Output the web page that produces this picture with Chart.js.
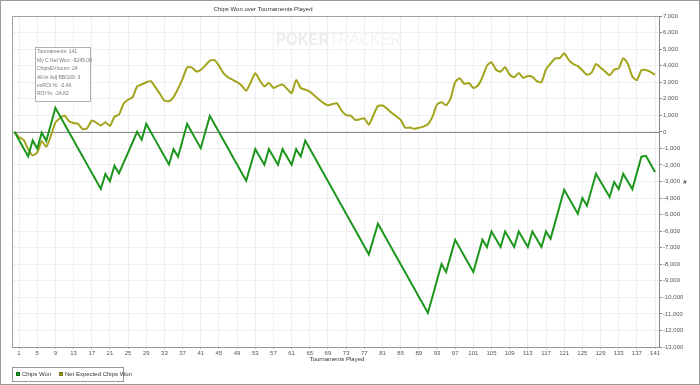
<!DOCTYPE html>
<html>
<head>
<meta charset="utf-8">
<script src="https://cdn.jsdelivr.net/npm/chart.js@4.4.1/dist/chart.umd.min.js"></script>
<style>
  html, body { margin: 0; padding: 0; background: #fff; }
</style>
</head>
<body>
<canvas id="myChart" width="700" height="385"></canvas>
<script>
const chartTitle = 'Chips Won over Tournaments Played';
const xTitle = 'Tournaments Played';
const yTitle = '#';
const seriesNames = ['Chips Won', 'Net Expected Chips Won'];
const xTicks = [1, 5, 9, 13, 17, 21, 25, 29, 33, 37, 41, 45, 49, 53, 57, 61, 65, 69, 73, 77, 81, 85, 89, 93, 97, 101, 105, 109, 113, 117, 121, 125, 129, 133, 137, 141];
const infoLines = [
    'Tournaments: 141',
    'My C Net Won: -$245.00',
    'ChipsEV/tourn: 24',
    'All-In Adj BB/100: 3',
    'evROI %: -2.46',
    'ROI %: -24.82'
];

// tournament number 0..141 (0 = starting point)
const tournaments = Array.from({length: 142}, (_, i) => i);

const chipsWon = [
    0, -495, -990, -1480, -520, -1010, -50, -540, 450, 1450,
    960, 470, -20, -510, -1000, -1490, -1980, -2470, -2960, -3450,
    -2540, -2990, -2050, -2500, -1880, -1250, -630, 0, -480, 480,
    -10, -500, -990, -1480, -1970, -1045, -1500, -510, 480, -10,
    -500, -990, -10, 965, 475, -15, -505, -995, -1485, -1975,
    -2465, -2955, -2000, -1045, -1520, -1990, -1045, -1520, -1990, -1045,
    -1520, -1990, -1045, -1490, -525, -1016, -1507, -1998, -2489, -2980,
    -3471, -3962, -4453, -4944, -5435, -5926, -6417, -6908, -7400, -6480,
    -5550, -6040, -6530, -7020, -7510, -8000, -8490, -8980, -9470, -9960,
    -10450, -10940, -9960, -8970, -7985, -8470, -7495, -6520, -7010, -7500,
    -7990, -8470, -7495, -6520, -6960, -6016, -6490, -6960, -6016, -6490,
    -6960, -6016, -6490, -6960, -6016, -6490, -6960, -6016, -6460, -5470,
    -4480, -3500, -3980, -4460, -4950, -4000, -4470, -3500, -2535, -3000,
    -3470, -3940, -3035, -3460, -2535, -3000, -3460, -2480, -1500, -1450,
    -1940, -2430
];

const netExpected = [
    0, -330, -480, -1050, -1420, -1250, -560, -900, -250, 560,
    825, 985, 640, 530, 480, 170, 220, 680, 560, 380,
    585, 360, 900, 1050, 1700, 1940, 2100, 2750, 2860, 3000,
    3060, 2700, 2300, 1900, 1850, 2100, 2600, 3200, 3900, 3900,
    3650, 3750, 4000, 4300, 4330, 4000, 3550, 3300, 3150, 3000,
    2800, 2480, 3000, 3540, 3100, 2740, 2960, 2650, 2780, 2860,
    2600, 2340, 3130, 2650, 2550, 2430, 2200, 1950, 1750, 1600,
    1680, 1720, 1280, 1010, 980, 720, 760, 820, 430, 1000,
    1560, 1590, 1400, 1150, 940, 720, 250, 260, 180, 240,
    320, 460, 900, 1650, 1790, 1600, 2030, 3000, 3240, 2900,
    2950, 2650, 2800, 3300, 4000, 4200, 3750, 3640, 3900, 3450,
    3300, 3560, 3260, 3370, 3320, 3060, 3000, 3780, 4130, 4440,
    4450, 4750, 4350, 4100, 3970, 3720, 3450, 3560, 4100, 3880,
    3650, 3420, 3760, 3840, 4450, 4120, 3350, 3120, 3720, 3740,
    3620, 3450
];

const greenColor = '#1c961c';
const oliveColor = '#a3a31c';
const labelFont = '"Liberation Sans", Arial, sans-serif';

const extras = {
    id: 'extras',
    beforeDatasetsDraw(chart) {
        const ctx = chart.ctx;
        const area = chart.chartArea;
        // watermark
        ctx.save();
        ctx.textBaseline = 'alphabetic';
        ctx.font = 'bold 17px "Liberation Sans Narrow", "Liberation Sans", sans-serif';
        const w1 = ctx.measureText('POKER').width;
        ctx.font = '17px "Liberation Sans Narrow", "Liberation Sans", sans-serif';
        const w2 = ctx.measureText('TRACKER').width;
        const sx = 125 / (w1 + w2);
        ctx.translate(276, 45);
        ctx.scale(sx, 1);
        ctx.font = 'bold 17px "Liberation Sans Narrow", "Liberation Sans", sans-serif';
        ctx.fillStyle = '#ececec';
        ctx.fillText('POKER', 0, 0);
        ctx.font = '17px "Liberation Sans Narrow", "Liberation Sans", sans-serif';
        ctx.fillStyle = '#f3f3f3';
        ctx.fillText('TRACKER', w1, 0);
        ctx.restore();

        // zero line
        const y0 = chart.scales.y.getPixelForValue(0);
        ctx.save();
        ctx.strokeStyle = '#8a8a8a';
        ctx.lineWidth = 1;
        ctx.beginPath();
        ctx.moveTo(area.left, Math.round(y0) + 0.5);
        ctx.lineTo(area.right, Math.round(y0) + 0.5);
        ctx.stroke();
        // left and top border of plot
        ctx.strokeStyle = '#a0a0a0';
        ctx.beginPath();
        ctx.moveTo(area.left + 0.5, area.bottom);
        ctx.lineTo(area.left + 0.5, area.top + 0.5);
        ctx.lineTo(area.right, area.top + 0.5);
        ctx.stroke();
        ctx.restore();
    },
    afterDraw(chart) {
        const ctx = chart.ctx;
        ctx.save();
        // outer frame
        ctx.strokeStyle = '#9a9a9a';
        ctx.lineWidth = 1;
        ctx.strokeRect(0.5, 0.5, 699, 384);

        // title
        ctx.fillStyle = '#333';
        ctx.font = '6px ' + labelFont;
        ctx.textAlign = 'center';
        ctx.textBaseline = 'middle';
        ctx.fillText(chartTitle, 263, 9);
        // axis titles
        ctx.fillText(xTitle, 337, 359);
        ctx.font = 'bold 6px ' + labelFont;
        ctx.fillText(yTitle, 685, 182);

        // info box
        ctx.fillStyle = '#fff';
        ctx.fillRect(35, 47, 55, 54);
        ctx.strokeStyle = '#b0b0b0';
        ctx.strokeRect(35.5, 47.5, 55, 54);
        ctx.fillStyle = '#777';
        ctx.font = '5px ' + labelFont;
        ctx.textAlign = 'left';
        infoLines.forEach((line, i) => {
            ctx.fillText(line, 37, 52 + i * 8.4);
        });

        // legend
        ctx.strokeStyle = '#999';
        ctx.strokeRect(12.5, 367.5, 111, 14);
        const items = [[16, greenColor, '#0e6e0e'], [59, oliveColor, '#707010']];
        items.forEach(([x, fill, edge], i) => {
            ctx.fillStyle = fill;
            ctx.fillRect(x, 372, 4, 4);
            ctx.strokeStyle = edge;
            ctx.strokeRect(x + 0.5, 372.5, 3, 3);
            ctx.fillStyle = '#333';
            ctx.font = '6px ' + labelFont;
            ctx.fillText(seriesNames[i], x + 6, 374.5);
        });
        ctx.restore();
    }
};

const ctx = document.getElementById('myChart').getContext('2d');
const myChart = new Chart(ctx, {
    type: 'line',
    data: {
        labels: tournaments,
        datasets: [{
            label: seriesNames[0],
            data: chipsWon,
            borderColor: greenColor,
            borderWidth: 2,
            pointRadius: 0,
            tension: 0,
            fill: false
        }, {
            label: seriesNames[1],
            data: netExpected,
            borderColor: oliveColor,
            borderWidth: 2,
            pointRadius: 0,
            tension: 0.2,
            fill: false
        }]
    },
    options: {
        responsive: false,
        animation: false,
        layout: { padding: { left: 12, top: 16, right: 0, bottom: 0 } },
        plugins: {
            legend: { display: false },
            title: { display: false },
            tooltip: { enabled: false }
        },
        scales: {
            x: {
                type: 'linear',
                min: -0.55,
                max: 141.87,
                afterBuildTicks: scale => {
                    scale.ticks = xTicks.map(v => ({ value: v }));
                },
                afterFit: scale => { scale.height = 38; },
                grid: { color: '#efefef', tickLength: 2, tickColor: '#bbb' },
                border: { display: true, color: '#999' },
                ticks: {
                    autoSkip: false,
                    maxRotation: 0,
                    padding: 1,
                    color: '#555',
                    font: { size: 6, family: labelFont },
                    callback: v => String(v)
                }
            },
            y: {
                position: 'right',
                min: -13000,
                max: 7000,
                afterFit: scale => { scale.width = 41; },
                grid: { color: '#efefef', tickLength: 3, tickColor: '#888' },
                border: { display: true, color: '#888' },
                ticks: {
                    stepSize: 1000,
                    padding: 1,
                    color: '#555',
                    font: { size: 6, family: labelFont },
                    callback: v => v.toLocaleString('en-US')
                }
            }
        }
    },
    plugins: [extras]
});
</script>
</body>
</html>
